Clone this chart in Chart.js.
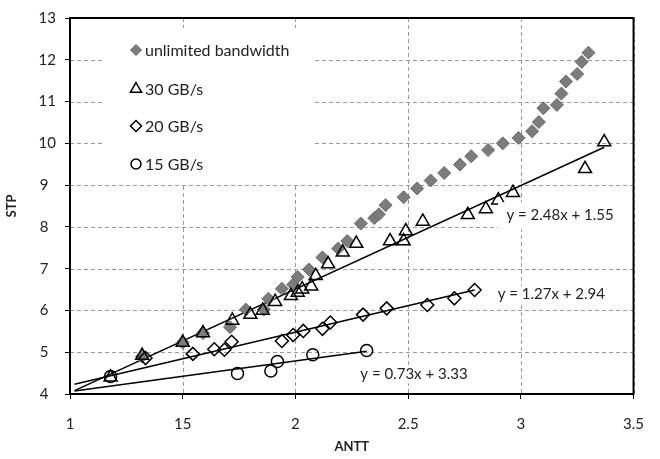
<!DOCTYPE html>
<html>
<head>
<meta charset="utf-8">
<title>STP vs ANTT</title>
<script src="https://cdn.jsdelivr.net/npm/chart.js@4"></script>
<style>
    html,body{margin:0;padding:0;background:#fff;}
    #wrap{width:660px;height:459px;position:relative;}
</style>
</head>
<body>
<div id="wrap"><canvas id="stpChart"></canvas></div>
<script>
// ------------------ DATA ------------------
const unlimitedX = [1.32,1.50,1.59,1.71,1.78,1.86,1.88,1.94,1.99,2.01,2.06,2.12,2.19,2.23,2.29,2.35,2.37,2.40,2.48,2.54,2.60,2.66,2.73,2.78,2.855,2.92,2.99,3.05,3.08,3.10,3.16,3.18,3.20,3.25,3.27,3.30];
const unlimitedY = [4.90,5.23,5.46,5.60,6.02,6.02,6.28,6.52,6.62,6.80,6.98,7.27,7.48,7.66,8.08,8.21,8.30,8.52,8.71,8.92,9.11,9.29,9.49,9.69,9.84,10.00,10.13,10.29,10.51,10.84,10.92,11.19,11.48,11.66,11.95,12.17];

const gb30X = [1.18,1.32,1.50,1.59,1.72,1.80,1.855,1.91,1.98,2.01,2.03,2.07,2.09,2.145,2.21,2.27,2.42,2.48,2.49,2.565,2.765,2.845,2.90,2.965,3.285,3.37];
const gb30Y = [4.40,4.92,5.23,5.46,5.76,5.90,6.00,6.21,6.35,6.43,6.51,6.58,6.83,7.11,7.39,7.60,7.66,7.66,7.90,8.13,8.29,8.43,8.64,8.82,9.39,10.03];

const gb20X = [1.335,1.545,1.64,1.685,1.717,1.94,1.99,2.035,2.12,2.155,2.30,2.405,2.585,2.705,2.795];
const gb20Y = [4.86,4.96,5.07,5.06,5.25,5.27,5.41,5.51,5.56,5.71,5.90,6.05,6.13,6.29,6.49];

const gb15X = [1.18,1.743,1.891,1.92,2.077,2.316];
const gb15Y = [4.42,4.49,4.55,4.78,4.94,5.04];

const seriesNames = ["unlimited bandwidth","30 GB/s","20 GB/s","15 GB/s"];

// trend lines (30, 20, 15 GB/s)
const trendSlope = [2.48,1.27,0.73];
const trendIntercept = [1.55,2.94,3.33];
const trendFrom = [1.02,1.02,1.02];
const trendTo = [3.37,2.795,2.316];
const trendText = ["y = 2.48x + 1.55","y = 1.27x + 2.94","y = 0.73x + 3.33"];

const xTickLabels = ["1","15","2","2.5","3","3.5"];

// ------------------ HELPERS ------------------
function pts(xs,ys){
    return xs.map((x,i)=>({x:x, y:ys[i]}));
}
function trendPts(i){
    return [trendFrom[i],trendTo[i]].map(x=>({x:x, y:trendSlope[i]*x+trendIntercept[i]}));
}

const FONT = "Lato, 'Open Sans', sans-serif";
const markerStyles = [
    {pointStyle:"rectRot", radius:6.5, bg:"#7c7c7c", border:"#6a6a6a", bw:1},
    {pointStyle:"triangle", radius:7.5, bg:"rgba(0,0,0,0)", border:"#000", bw:1.5},
    {pointStyle:"rectRot", radius:6.5, bg:"rgba(0,0,0,0)", border:"#000", bw:1.5},
    {pointStyle:"circle", radius:6, bg:"rgba(0,0,0,0)", border:"#000", bw:1.5}
];

function scatterSet(i, data){
    const m = markerStyles[i];
    return {
        type:"scatter",
        label:seriesNames[i],
        data:data,
        pointStyle:m.pointStyle,
        pointRadius:m.radius,
        pointBackgroundColor:m.bg,
        pointBorderColor:m.border,
        pointBorderWidth:m.bw,
        showLine:false,
        order:10-i
    };
}
function trendSet(i){
    return {
        type:"line",
        label:"trend"+i,
        data:trendPts(i),
        borderColor:"#000",
        borderWidth:1.5,
        pointRadius:0,
        fill:false,
        order:20
    };
}

// ------------------ PLUGINS ------------------
// dashed grid, drawn by hand from the scale ticks
const gridPlugin = {
    id:"dashGrid",
    beforeDatasetsDraw(chart){
        const ctx = chart.ctx, a = chart.chartArea;
        const sx = chart.scales.x, sy = chart.scales.y;
        ctx.save();
        ctx.strokeStyle = "#9a9a9a";
        ctx.lineWidth = 1;
        ctx.setLineDash([4,3]);
        ctx.beginPath();
        sx.ticks.forEach(t=>{
            const px = Math.round(sx.getPixelForValue(t.value))+0.5;
            ctx.moveTo(px, a.top);
            ctx.lineTo(px, a.bottom);
        });
        sy.ticks.forEach(t=>{
            const py = Math.round(sy.getPixelForValue(t.value))+0.5;
            ctx.moveTo(a.left, py);
            ctx.lineTo(a.right, py);
        });
        ctx.stroke();
        ctx.restore();
    }
};

const framePlugin = {
    id:"frame",
    afterDatasetsDraw(chart){
        const ctx = chart.ctx, a = chart.chartArea;
        const sx = chart.scales.x, sy = chart.scales.y;
        ctx.save();

        // equation labels with white background
        ctx.font = "15px " + FONT;
        ctx.textAlign = "center";
        ctx.textBaseline = "middle";
        const labelPos = [[3.174,8.28],[3.135,6.38],[2.526,4.47]];
        trendText.forEach((t,i)=>{
            const px = sx.getPixelForValue(labelPos[i][0]);
            const py = sy.getPixelForValue(labelPos[i][1]);
            const w = ctx.measureText(t).width;
            ctx.fillStyle = "#fff";
            if(i===0) ctx.fillRect(px-62, py-13, 136, 27);
            else ctx.fillRect(px-w/2-3, py-9, w+6, 18);
            ctx.fillStyle = "#222";
            ctx.fillText(t, px, py);
        });

        // legend box inside the plot
        ctx.fillStyle = "#fff";
        ctx.fillRect(105, 28, 208, 155);
        const rows = [50,89,126,164];
        ctx.textAlign = "left";
        ctx.font = "16px " + FONT;
        seriesNames.forEach((name,i)=>{
            const m = markerStyles[i];
            ctx.fillStyle = m.bg;
            ctx.strokeStyle = m.border;
            ctx.lineWidth = m.bw;
            Chart.helpers.drawPoint(ctx, {pointStyle:m.pointStyle, radius:m.radius-1, borderWidth:m.bw}, 136, rows[i]);
            ctx.fillStyle = "#222";
            ctx.fillText(name, 145, rows[i]+1);
        });

        // frame
        ctx.strokeStyle = "#000";
        ctx.lineWidth = 2;
        ctx.strokeRect(a.left, a.top, a.right-a.left, a.bottom-a.top);
        ctx.restore();
    }
};

// ------------------ CHART ------------------
new Chart(document.getElementById("stpChart"),{
    data:{
        datasets:[
            scatterSet(0, pts(unlimitedX,unlimitedY)),
            scatterSet(1, pts(gb30X,gb30Y)),
            scatterSet(2, pts(gb20X,gb20Y)),
            scatterSet(3, pts(gb15X,gb15Y)),
            trendSet(0), trendSet(1), trendSet(2)
        ]
    },
    options:{
        responsive:true,
        maintainAspectRatio:false,
        animation:false,
        layout:{padding:{top:12,right:15,bottom:0,left:0}},
        plugins:{
            legend:{display:false},
            tooltip:{enabled:false}
        },
        scales:{
            x:{
                type:"linear",
                min:1, max:3.5,
                afterFit(s){ s.height = 65; },
                ticks:{
                    stepSize:0.5,
                    padding:16,
                    color:"#222",
                    font:{family:FONT, size:15},
                    callback:(v)=>xTickLabels[Math.round((v-1)/0.5)]
                },
                grid:{drawOnChartArea:false, tickColor:"#000", tickLength:5},
                border:{display:true, color:"#000", width:2},
                title:{display:true, text:"ANTT", color:"#222", font:{family:FONT, size:13, weight:"bold"}, padding:{top:0,bottom:4}}
            },
            y:{
                min:4, max:13,
                afterFit(s){ s.width = 70; },
                ticks:{
                    stepSize:1,
                    padding:9,
                    color:"#222",
                    font:{family:FONT, size:15},
                    // single digits sit left, like the original
                    callback:(v)=> v<10 ? v+"\u2002" : String(v)
                },
                grid:{drawOnChartArea:false, tickColor:"#000", tickLength:5},
                border:{display:true, color:"#000", width:2},
                title:{display:true, text:"STP", color:"#222", font:{family:FONT, size:13, weight:"bold"}, padding:{top:4,bottom:0}}
            }
        }
    },
    plugins:[gridPlugin, framePlugin]
});
</script>
</body>
</html>
